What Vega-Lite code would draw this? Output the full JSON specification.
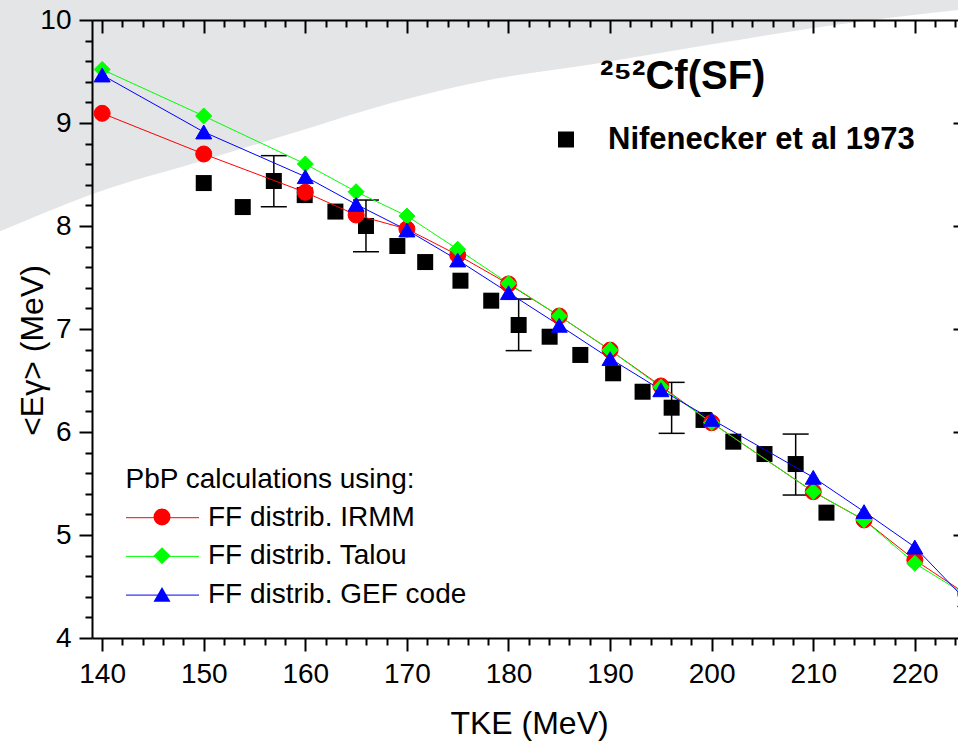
{
  "$schema": "https://vega.github.io/schema/vega-lite/v6.json",
  "width": 866,
  "height": 618,
  "autosize": "none",
  "padding": {"left": 92, "top": 20, "right": 0, "bottom": 105},
  "background": "white",
  "config": {"view": {"stroke": null}, "font": "Liberation Sans"},
  "title": {
    "text": "²⁵²Cf(SF)",
    "orient": "none",
    "anchor": "start",
    "frame": "group",
    "dx": 508,
    "dy": 69,
    "offset": 0,
    "baseline": "alphabetic",
    "font": "Liberation Sans",
    "fontSize": 40,
    "fontWeight": "bold",
    "color": "black"
  },
  "datasets": {
    "shade": [
      {"x": 128.5, "y": 7.89},
      {"x": 130.0, "y": 7.951},
      {"x": 139.05, "y": 8.311},
      {"x": 149.68, "y": 8.628},
      {"x": 159.52, "y": 8.925},
      {"x": 168.38, "y": 9.191},
      {"x": 177.23, "y": 9.401},
      {"x": 189.05, "y": 9.583},
      {"x": 200.17, "y": 9.767},
      {"x": 210.01, "y": 9.922},
      {"x": 224.28, "y": 10.097},
      {"x": 226.0, "y": 10.115}
    ],
    "exp": [
      {"x": 150.0, "y": 8.417, "lo": null, "hi": null},
      {"x": 153.84, "y": 8.184, "lo": null, "hi": null},
      {"x": 156.9, "y": 8.437, "lo": 8.187, "hi": 8.683},
      {"x": 159.94, "y": 8.3, "lo": null, "hi": null},
      {"x": 162.96, "y": 8.14, "lo": null, "hi": null},
      {"x": 165.97, "y": 8.0, "lo": 7.75, "hi": 8.252},
      {"x": 169.06, "y": 7.806, "lo": null, "hi": null},
      {"x": 171.8, "y": 7.65, "lo": null, "hi": null},
      {"x": 175.27, "y": 7.469, "lo": null, "hi": null},
      {"x": 178.3, "y": 7.275, "lo": null, "hi": null},
      {"x": 181.0, "y": 7.039, "lo": 6.79, "hi": 7.291},
      {"x": 184.05, "y": 6.925, "lo": null, "hi": null},
      {"x": 187.07, "y": 6.748, "lo": null, "hi": null},
      {"x": 190.3, "y": 6.57, "lo": null, "hi": null},
      {"x": 193.2, "y": 6.391, "lo": null, "hi": null},
      {"x": 196.06, "y": 6.236, "lo": 5.987, "hi": 6.482},
      {"x": 199.2, "y": 6.117, "lo": null, "hi": null},
      {"x": 202.13, "y": 5.906, "lo": null, "hi": null},
      {"x": 205.2, "y": 5.786, "lo": null, "hi": null},
      {"x": 208.27, "y": 5.689, "lo": 5.388, "hi": 5.98},
      {"x": 211.3, "y": 5.217, "lo": null, "hi": null}
    ],
    "calc": [
      {"series": "FF distrib. IRMM", "x": 140, "y": 9.094},
      {"series": "FF distrib. IRMM", "x": 150, "y": 8.699},
      {"series": "FF distrib. IRMM", "x": 160, "y": 8.327},
      {"series": "FF distrib. IRMM", "x": 165, "y": 8.107},
      {"series": "FF distrib. IRMM", "x": 170, "y": 7.971},
      {"series": "FF distrib. IRMM", "x": 175, "y": 7.718},
      {"series": "FF distrib. IRMM", "x": 180, "y": 7.437},
      {"series": "FF distrib. IRMM", "x": 185, "y": 7.126},
      {"series": "FF distrib. IRMM", "x": 190, "y": 6.795},
      {"series": "FF distrib. IRMM", "x": 195, "y": 6.447},
      {"series": "FF distrib. IRMM", "x": 200, "y": 6.09},
      {"series": "FF distrib. IRMM", "x": 210, "y": 5.42},
      {"series": "FF distrib. IRMM", "x": 215, "y": 5.146},
      {"series": "FF distrib. IRMM", "x": 220, "y": 4.757},
      {"series": "FF distrib. IRMM", "x": 225, "y": 4.43},
      {"series": "FF distrib. Talou", "x": 140, "y": 9.52},
      {"series": "FF distrib. Talou", "x": 150, "y": 9.068},
      {"series": "FF distrib. Talou", "x": 160, "y": 8.602},
      {"series": "FF distrib. Talou", "x": 165, "y": 8.333},
      {"series": "FF distrib. Talou", "x": 170, "y": 8.097},
      {"series": "FF distrib. Talou", "x": 175, "y": 7.774},
      {"series": "FF distrib. Talou", "x": 180, "y": 7.443},
      {"series": "FF distrib. Talou", "x": 185, "y": 7.126},
      {"series": "FF distrib. Talou", "x": 190, "y": 6.796},
      {"series": "FF distrib. Talou", "x": 195, "y": 6.437},
      {"series": "FF distrib. Talou", "x": 200, "y": 6.09},
      {"series": "FF distrib. Talou", "x": 210, "y": 5.42},
      {"series": "FF distrib. Talou", "x": 215, "y": 5.146},
      {"series": "FF distrib. Talou", "x": 220, "y": 4.725},
      {"series": "FF distrib. Talou", "x": 225, "y": 4.42},
      {"series": "FF distrib. GEF code", "x": 140, "y": 9.466},
      {"series": "FF distrib. GEF code", "x": 150, "y": 8.913},
      {"series": "FF distrib. GEF code", "x": 160, "y": 8.479},
      {"series": "FF distrib. GEF code", "x": 165, "y": 8.21},
      {"series": "FF distrib. GEF code", "x": 170, "y": 7.961},
      {"series": "FF distrib. GEF code", "x": 175, "y": 7.67},
      {"series": "FF distrib. GEF code", "x": 180, "y": 7.353},
      {"series": "FF distrib. GEF code", "x": 185, "y": 7.036},
      {"series": "FF distrib. GEF code", "x": 190, "y": 6.713},
      {"series": "FF distrib. GEF code", "x": 195, "y": 6.41},
      {"series": "FF distrib. GEF code", "x": 200, "y": 6.123},
      {"series": "FF distrib. GEF code", "x": 210, "y": 5.56},
      {"series": "FF distrib. GEF code", "x": 215, "y": 5.227},
      {"series": "FF distrib. GEF code", "x": 220, "y": 4.883},
      {"series": "FF distrib. GEF code", "x": 225, "y": 4.37}
    ]
  },
  "layer": [
    {
      "data": {"name": "shade"},
      "mark": {"type": "area", "color": "#e4e5e7", "opacity": 1, "clip": false, "interpolate": "monotone"},
      "encoding": {
        "x": {
          "field": "x", "type": "quantitative",
          "scale": {"domain": [139, 224.25], "nice": false, "zero": false},
          "axis": {
            "orient": "bottom",
            "values": [140,142,144,146,148,150,152,154,156,158,160,162,164,166,168,170,172,174,176,178,180,182,184,186,188,190,192,194,196,198,200,202,204,206,208,210,212,214,216,218,220,222,224],
            "tickCount": 500, "tickMinStep": 0.1,
            "labelExpr": "datum.value % 10 === 0 ? format(datum.value, 'd') : ''",
            "tickSize": {"condition": {"test": "datum.value % 10 === 0", "value": 13}, "value": 7},
            "tickWidth": 2, "tickColor": "black",
            "domainColor": "black", "domainWidth": 2,
            "grid": false,
            "labelFont": "Liberation Sans", "labelFontSize": 28, "labelColor": "black",
            "labelBaseline": "alphabetic", "labelPadding": 31,
            "labelFlush": false, "labelOverlap": false,
            "title": "TKE (MeV)",
            "titleFont": "Liberation Sans", "titleFontSize": 32, "titleFontWeight": "normal", "titleColor": "black",
            "titleBaseline": "alphabetic", "titleX": 437, "titleY": 95,
            "zindex": 1
          }
        },
        "y": {
          "field": "y", "type": "quantitative", "stack": null,
          "scale": {"domain": [4, 10], "nice": false, "zero": false},
          "axis": {
            "orient": "left",
            "values": [4,4.2,4.4,4.6,4.8,5,5.2,5.4,5.6,5.8,6,6.2,6.4,6.6,6.8,7,7.2,7.4,7.6,7.8,8,8.2,8.4,8.6,8.8,9,9.2,9.4,9.6,9.8,10],
            "tickCount": 500, "tickMinStep": 0.1,
            "labelExpr": "datum.value % 1 === 0 ? format(datum.value, 'd') : ''",
            "tickSize": {"condition": {"test": "datum.value % 1 === 0", "value": 13}, "value": 7},
            "tickWidth": 2, "tickColor": "black",
            "domainColor": "black", "domainWidth": 2,
            "grid": false,
            "labelFont": "Liberation Sans", "labelFontSize": 28, "labelColor": "black",
            "labelPadding": 8, "labelFlush": false, "labelOverlap": false,
            "title": "<Eγ> (MeV)",
            "titleFont": "Liberation Sans", "titleFontSize": 32, "titleFontWeight": "normal", "titleColor": "black",
            "titleBaseline": "alphabetic", "titleAngle": -90, "titleX": -50, "titleY": 330,
            "zindex": 1
          }
        },
        "y2": {"datum": 10.3}
      }
    },
    {
      "data": {"name": "exp"},
      "transform": [{"filter": "isValid(datum.lo)"}],
      "mark": {"type": "rule", "color": "black", "strokeWidth": 1.5, "clip": true},
      "encoding": {
        "x": {"field": "x", "type": "quantitative", "scale": {"domain": [139, 224.25], "nice": false, "zero": false}, "axis": null},
        "y": {"field": "lo", "type": "quantitative", "scale": {"domain": [4, 10], "nice": false, "zero": false}, "axis": null},
        "y2": {"field": "hi"}
      }
    },
    {
      "data": {"name": "exp"},
      "transform": [{"filter": "isValid(datum.lo)"}],
      "mark": {"type": "tick", "orient": "horizontal", "color": "black", "size": 26, "thickness": 1.5, "opacity": 1, "clip": true},
      "encoding": {
        "x": {"field": "x", "type": "quantitative", "scale": {"domain": [139, 224.25], "nice": false, "zero": false}, "axis": null},
        "y": {"field": "lo", "type": "quantitative", "scale": {"domain": [4, 10], "nice": false, "zero": false}, "axis": null}
      }
    },
    {
      "data": {"name": "exp"},
      "transform": [{"filter": "isValid(datum.hi)"}],
      "mark": {"type": "tick", "orient": "horizontal", "color": "black", "size": 26, "thickness": 1.5, "opacity": 1, "clip": true},
      "encoding": {
        "x": {"field": "x", "type": "quantitative", "scale": {"domain": [139, 224.25], "nice": false, "zero": false}, "axis": null},
        "y": {"field": "hi", "type": "quantitative", "scale": {"domain": [4, 10], "nice": false, "zero": false}, "axis": null}
      }
    },
    {
      "data": {"name": "exp"},
      "mark": {"type": "square", "size": 256, "opacity": 1, "clip": true},
      "encoding": {
        "x": {
          "field": "x", "type": "quantitative",
          "scale": {"domain": [139, 224.25], "nice": false, "zero": false},
          "axis": {
            "orient": "top",
            "values": [140,142,144,146,148,150,152,154,156,158,160,162,164,166,168,170,172,174,176,178,180,182,184,186,188,190,192,194,196,198,200,202,204,206,208,210,212,214,216,218,220,222,224],
            "tickCount": 500, "tickMinStep": 0.1,
            "labels": false, "title": null, "grid": false,
            "tickSize": {"condition": {"test": "datum.value % 10 === 0", "value": -13}, "value": -7},
            "tickWidth": 2, "tickColor": "black",
            "domainColor": "black", "domainWidth": 2,
            "zindex": 1
          }
        },
        "y": {
          "field": "y", "type": "quantitative",
          "scale": {"domain": [4, 10], "nice": false, "zero": false},
          "axis": {
            "orient": "right",
            "values": [5, 6, 7, 8, 9],
            "tickCount": 500, "tickMinStep": 0.1,
            "labels": false, "title": null, "grid": false, "domain": false,
            "tickSize": -5, "tickWidth": 2, "tickColor": "black",
            "zindex": 1
          }
        },
        "color": {
          "datum": "Nifenecker et al 1973",
          "scale": {"range": ["#000000"]},
          "legend": {
            "orient": "none", "legendX": 458.5, "legendY": 104,
            "title": null, "padding": 0,
            "labelFont": "Liberation Sans", "labelFontSize": 31, "labelFontWeight": "bold", "labelColor": "black",
            "labelLimit": 600, "labelOffset": 26.5,
            "symbolType": "square", "symbolSize": 256, "symbolStrokeWidth": 0, "symbolOpacity": 1
          }
        }
      }
    },
    {
      "data": {"name": "calc"},
      "transform": [{"filter": "datum.series === 'FF distrib. IRMM'"}],
      "mark": {"type": "line", "color": "#ff0000", "strokeWidth": 1, "clip": true},
      "encoding": {
        "x": {"field": "x", "type": "quantitative", "scale": {"domain": [139, 224.25], "nice": false, "zero": false}, "axis": null},
        "y": {"field": "y", "type": "quantitative", "scale": {"domain": [4, 10], "nice": false, "zero": false}, "axis": null}
      }
    },
    {
      "data": {"name": "calc"},
      "transform": [{"filter": "datum.series === 'FF distrib. Talou'"}],
      "mark": {"type": "line", "color": "#00ff00", "strokeWidth": 1, "clip": true},
      "encoding": {
        "x": {"field": "x", "type": "quantitative", "scale": {"domain": [139, 224.25], "nice": false, "zero": false}, "axis": null},
        "y": {"field": "y", "type": "quantitative", "scale": {"domain": [4, 10], "nice": false, "zero": false}, "axis": null}
      }
    },
    {
      "data": {"name": "calc"},
      "transform": [{"filter": "datum.series === 'FF distrib. GEF code'"}],
      "mark": {"type": "line", "color": "#0000ff", "strokeWidth": 1, "clip": true},
      "encoding": {
        "x": {"field": "x", "type": "quantitative", "scale": {"domain": [139, 224.25], "nice": false, "zero": false}, "axis": null},
        "y": {"field": "y", "type": "quantitative", "scale": {"domain": [4, 10], "nice": false, "zero": false}, "axis": null}
      }
    },
    {
      "data": {"name": "calc"},
      "mark": {"type": "point", "filled": true, "size": 256, "strokeWidth": 1, "opacity": 1, "clip": true},
      "encoding": {
        "x": {"field": "x", "type": "quantitative", "scale": {"domain": [139, 224.25], "nice": false, "zero": false}, "axis": null},
        "y": {"field": "y", "type": "quantitative", "scale": {"domain": [4, 10], "nice": false, "zero": false}, "axis": null},
        "fill": {
          "field": "series", "type": "nominal",
          "scale": {"domain": ["FF distrib. IRMM", "FF distrib. Talou", "FF distrib. GEF code"], "range": ["#ff0000", "#00ff00", "#0000ff"]},
          "legend": {
            "orient": "bottom-left", "offset": 29, "direction": "vertical",
            "title": null, "padding": 0,
            "labelFont": "Liberation Sans", "labelFontSize": 28, "labelOpacity": 0, "labelExpr": "' '", "labelOffset": 8.5,
            "symbolSize": 289, "symbolStrokeWidth": 0, "symbolStrokeColor": "transparent", "symbolOpacity": 1,
            "symbolOffset": 27, "rowPadding": 10.7
          }
        },
        "shape": {
          "field": "series", "type": "nominal",
          "scale": {"domain": ["FF distrib. IRMM", "FF distrib. Talou", "FF distrib. GEF code"], "range": ["circle", "diamond", "triangle-up"]},
          "legend": {
            "orient": "bottom-left", "offset": 29, "direction": "vertical",
            "title": null, "padding": 0,
            "labelFont": "Liberation Sans", "labelFontSize": 28, "labelOpacity": 0, "labelExpr": "' '", "labelOffset": 8.5,
            "symbolSize": 289, "symbolStrokeWidth": 0, "symbolStrokeColor": "transparent", "symbolOpacity": 1,
            "symbolOffset": 27, "rowPadding": 10.7
          }
        },
        "stroke": {
          "field": "series", "type": "nominal",
          "sort": ["FF distrib. IRMM", "FF distrib. Talou", "FF distrib. GEF code"],
          "scale": {"range": ["#ff0000", "#00ff00", "#0000ff"]},
          "legend": {
            "orient": "none", "legendX": 33.5, "legendY": 446, "direction": "vertical",
            "title": "PbP calculations using:", "padding": 0,
            "titleFont": "Liberation Sans", "titleFontSize": 28, "titleFontWeight": "normal", "titleColor": "black",
            "titlePadding": 5.7, "titleLimit": 600,
            "labelFont": "Liberation Sans", "labelFontSize": 28, "labelColor": "black",
            "labelLimit": 600, "labelOffset": 8.5,
            "symbolType": "stroke", "symbolSize": 5329, "symbolStrokeWidth": 1, "symbolFillColor": "transparent",
            "symbolOpacity": 1, "clipHeight": 36, "rowPadding": 2.7
          }
        }
      }
    }
  ],
  "resolve": {"axis": {"x": "independent", "y": "independent"}}
}
